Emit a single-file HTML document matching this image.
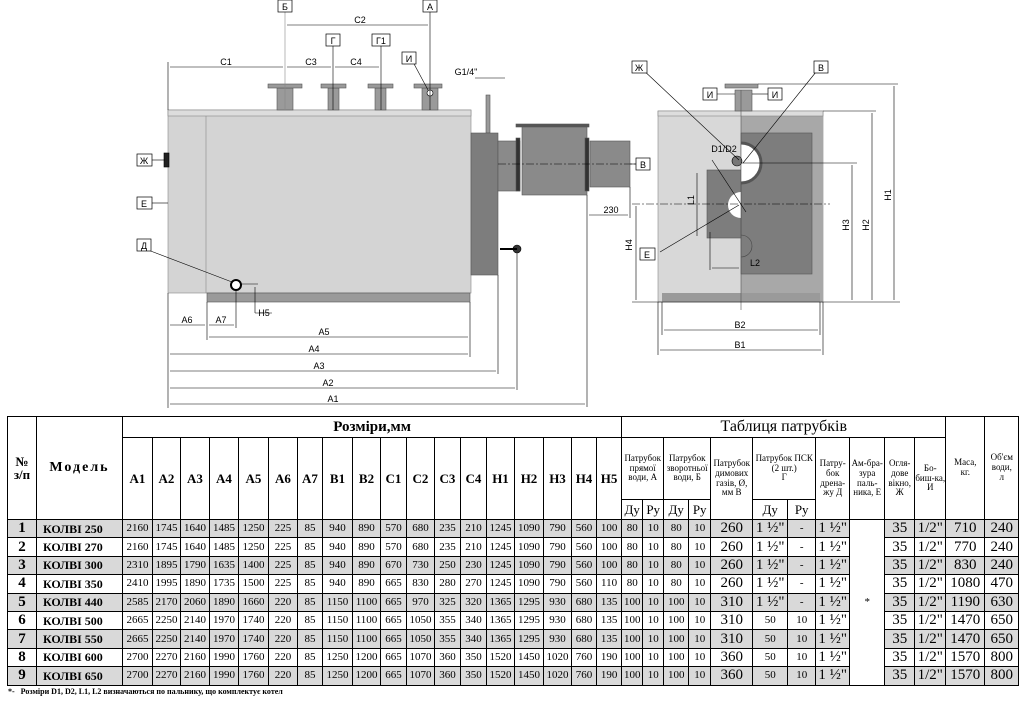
<!DOCTYPE html>
<html><head><meta charset="utf-8">
<style>
body{margin:0;width:1024px;height:704px;background:#fff;overflow:hidden;position:relative;font-family:"Liberation Serif",serif}
svg{position:absolute;left:0;top:0}
table{position:absolute;left:7px;top:416px;border-collapse:collapse;table-layout:fixed;width:1011px}
td{border:1px solid #000;padding:0;text-align:center;vertical-align:middle;font-size:11px;line-height:1;overflow:hidden;white-space:nowrap}
.h td{font-weight:bold}
.big{font-size:15px}
.s{font-size:9px;white-space:normal;line-height:1.1;font-weight:bold}
tr.d td{height:17.4px}
tr.g td{background:#d9d9d9}
td.w{background:#fff!important}
.num{font-size:15px}
.mod{font-weight:bold;font-size:12px;text-align:left;padding-left:6px}
.foot{position:absolute;left:8px;top:687px;font-size:8px;font-weight:bold}
</style></head><body>
<svg width="1024" height="416" viewBox="0 0 1024 416" font-family="Liberation Sans, sans-serif" font-size="9">
<g stroke="#000" stroke-width="0.6" fill="none">
<rect x="168" y="110" width="303" height="183" fill="#d4d4d4" stroke="#888"/>
<rect x="168" y="110" width="303" height="6" fill="#ddd" stroke="#888"/>
<line x1="206" y1="116" x2="206" y2="293" stroke="#888"/>
<rect x="207" y="293" width="263" height="9" fill="#9a9a9a" stroke="#555"/>
<rect x="164" y="153" width="5" height="14" fill="#222"/>
<g fill="#9a9a9a" stroke="#555">
<rect x="277" y="88" width="16" height="22"/><rect x="268" y="84" width="34" height="4"/>
<rect x="328" y="88" width="11" height="22"/><rect x="321" y="84" width="25" height="4"/>
<rect x="375" y="88" width="11" height="22"/><rect x="368" y="84" width="25" height="4"/>
<rect x="422" y="88" width="16" height="22"/><rect x="414" y="84" width="28" height="4"/>
<rect x="486" y="95" width="4" height="38"/>
<rect x="471" y="133" width="27" height="142" fill="#7d7d7d"/>
<rect x="498" y="141" width="22" height="50" fill="#8a8a8a"/>
<rect x="522" y="126" width="65" height="69" fill="#8a8a8a"/>
<rect x="590" y="141" width="40" height="46" fill="#8a8a8a"/>
<rect x="516" y="138" width="4" height="53" fill="#333"/>
<rect x="585" y="138" width="4" height="53" fill="#333"/>
<rect x="516" y="124" width="73" height="3" fill="#555"/>
</g>
<circle cx="236" cy="285" r="5" fill="#fff" stroke="#000" stroke-width="2"/>
<circle cx="430" cy="93" r="3" fill="#fff" stroke="#000"/>
<circle cx="517" cy="249" r="4" fill="#333"/>
<line x1="500" y1="249" x2="517" y2="249" stroke-width="2"/>
<line x1="498" y1="164" x2="640" y2="164" stroke-dasharray="8 2 2 2"/>
<line x1="285" y1="8" x2="285" y2="110" stroke="#888"/>
<line x1="430" y1="8" x2="430" y2="110"/>
<line x1="333" y1="44" x2="333" y2="110"/>
<line x1="381" y1="44" x2="381" y2="110"/>
<line x1="168" y1="62" x2="168" y2="110"/>
<line x1="170" y1="67" x2="283" y2="67"/><line x1="287" y1="67" x2="331" y2="67"/><line x1="335" y1="67" x2="379" y2="67"/>
<line x1="287" y1="25" x2="428" y2="25"/>
<line x1="475" y1="78" x2="505" y2="78"/>
<line x1="168" y1="293" x2="168" y2="408"/>
<line x1="207" y1="302" x2="207" y2="340"/>
<line x1="236" y1="290" x2="236" y2="328"/>
<line x1="470" y1="302" x2="470" y2="357"/>
<line x1="498" y1="275" x2="498" y2="374"/>
<line x1="517" y1="253" x2="517" y2="390"/>
<line x1="587" y1="195" x2="587" y2="407"/>
<line x1="630" y1="187" x2="630" y2="218"/>
<line x1="170" y1="325" x2="205" y2="325"/><line x1="209" y1="325" x2="234" y2="325"/>
<line x1="209" y1="337" x2="468" y2="337"/>
<line x1="170" y1="354" x2="468" y2="354"/>
<line x1="170" y1="371" x2="496" y2="371"/>
<line x1="170" y1="388" x2="515" y2="388"/>
<line x1="170" y1="404" x2="585" y2="404"/>
<line x1="589" y1="215" x2="628" y2="215"/>
<line x1="255" y1="287" x2="255" y2="313"/><line x1="255" y1="313" x2="272" y2="313"/>
<line x1="240" y1="284" x2="258" y2="284"/>
<line x1="152" y1="160" x2="165" y2="160"/>
<line x1="152" y1="203" x2="168" y2="203"/>
<line x1="148" y1="250" x2="232" y2="282"/>
<line x1="413" y1="62" x2="428" y2="90"/>
<line x1="630" y1="164" x2="636" y2="164"/>
<rect x="658" y="111" width="165" height="191" fill="#d8d8d8" stroke="#888"/>
<rect x="741" y="116" width="82" height="186" fill="#a8a8a8" stroke="none"/>
<rect x="658" y="111" width="165" height="5" fill="#ddd" stroke="#888"/>
<rect x="741" y="133" width="71" height="141" fill="#7d7d7d" stroke="#555"/>
<rect x="707" y="170" width="34" height="68" fill="#7d7d7d" stroke="#555"/>
<rect x="662" y="293" width="158" height="9" fill="#9a9a9a" stroke="none"/>
<rect x="735" y="90" width="17" height="21" fill="#9a9a9a" stroke="#555"/>
<rect x="725" y="84" width="33" height="4" fill="#9a9a9a" stroke="#555"/>
<path d="M741 143 A20 20 0 0 1 741 183" fill="#fff" stroke="#555" stroke-width="3"/>
<path d="M741 192 A13 13 0 0 0 741 218 Z" fill="#fff" stroke="none"/>
<circle cx="737" cy="161" r="5" fill="#777"/>
<path d="M741 235 A11 11 0 0 1 741 257" fill="none" stroke="#444"/>
<line x1="741" y1="90" x2="741" y2="310" stroke="#555"/>
<line x1="632" y1="204" x2="830" y2="204" stroke-dasharray="8 2 2 2"/>
<line x1="741" y1="163" x2="857" y2="163"/>
<line x1="823" y1="111" x2="876" y2="111"/>
<line x1="758" y1="84" x2="898" y2="84"/>
<line x1="632" y1="302" x2="900" y2="302"/>
<line x1="894" y1="86" x2="894" y2="300"/>
<line x1="872" y1="113" x2="872" y2="300"/>
<line x1="852" y1="165" x2="852" y2="300"/>
<line x1="636" y1="206" x2="636" y2="300"/>
<line x1="697" y1="173" x2="697" y2="236"/>
<line x1="710" y1="232" x2="710" y2="270"/><line x1="712" y1="268" x2="739" y2="268"/>
<line x1="658" y1="302" x2="658" y2="355"/><line x1="823" y1="302" x2="823" y2="355"/>
<line x1="662" y1="302" x2="662" y2="335"/><line x1="820" y1="302" x2="820" y2="335"/>
<line x1="664" y1="330" x2="818" y2="330"/>
<line x1="660" y1="350" x2="821" y2="350"/>
<line x1="640" y1="67" x2="739" y2="160"/>
<line x1="820" y1="67" x2="743" y2="163"/>
<line x1="660" y1="252" x2="739" y2="205"/>
<line x1="712" y1="160" x2="746" y2="212"/>
<line x1="717" y1="94" x2="735" y2="94"/><line x1="752" y1="94" x2="768" y2="94"/>
</g>
<g fill="#fff" stroke="#000" stroke-width="0.7">
<rect x="278" y="0" width="14" height="12"/><rect x="423" y="0" width="14" height="12"/>
<rect x="326" y="34" width="14" height="12"/><rect x="372" y="34" width="18" height="12"/>
<rect x="402" y="52" width="14" height="12"/>
<rect x="137" y="154" width="15" height="12"/><rect x="137" y="197" width="15" height="12"/>
<rect x="137" y="239" width="14" height="12"/>
<rect x="636" y="158" width="14" height="12"/>
<rect x="632" y="61" width="15" height="12"/><rect x="814" y="61" width="14" height="12"/>
<rect x="703" y="88" width="14" height="12"/><rect x="768" y="88" width="14" height="12"/>
<rect x="640" y="248" width="15" height="12"/>
</g>
<g fill="#000" text-anchor="middle">
<text x="285" y="10">Б</text><text x="430" y="10">А</text>
<text x="333" y="44">Г</text><text x="381" y="44">Г1</text><text x="409" y="62">И</text>
<text x="144" y="164">Ж</text><text x="144" y="207">Е</text><text x="144" y="249">Д</text>
<text x="643" y="168">В</text><text x="639" y="71">Ж</text><text x="821" y="71">В</text>
<text x="710" y="98">И</text><text x="775" y="98">И</text><text x="647" y="258">Е</text>
<text x="226" y="65">С1</text><text x="311" y="65">С3</text><text x="356" y="65">С4</text>
<text x="360" y="23">С2</text><text x="466" y="75">G1/4"</text>
<text x="187" y="323">А6</text><text x="221" y="323">А7</text><text x="264" y="316">Н5</text>
<text x="324" y="335">А5</text><text x="314" y="352">А4</text><text x="319" y="369">А3</text>
<text x="328" y="386">А2</text><text x="333" y="402">А1</text><text x="611" y="213">230</text>
<text x="724" y="152">D1/D2</text><text x="755" y="266">L2</text>
<text x="740" y="328">В2</text><text x="740" y="348">В1</text>
</g>
<g fill="#000" text-anchor="middle">
<text transform="translate(632,245) rotate(-90)">Н4</text>
<text transform="translate(694,200) rotate(-90)">L1</text>
<text transform="translate(849,225) rotate(-90)">Н3</text>
<text transform="translate(869,225) rotate(-90)">Н2</text>
<text transform="translate(891,195) rotate(-90)">Н1</text>
</g>
</svg>

<table>
<colgroup>
<col style="width:29px"><col style="width:86px"><col style="width:30px"><col style="width:28px"><col style="width:29px"><col style="width:29px"><col style="width:30px"><col style="width:29px"><col style="width:25px"><col style="width:30px"><col style="width:28px"><col style="width:26px"><col style="width:28px"><col style="width:26px"><col style="width:26px"><col style="width:28px"><col style="width:29px"><col style="width:28px"><col style="width:25px"><col style="width:25px"><col style="width:21px"><col style="width:21px"><col style="width:25px"><col style="width:22px"><col style="width:42px"><col style="width:35px"><col style="width:28px"><col style="width:34px"><col style="width:35px"><col style="width:30px"><col style="width:31px"><col style="width:39px"><col style="width:34px">
</colgroup>
<tr class="h" style="height:21px"><td rowspan="3" class="big" style="font-size:13px">№<br>з/п</td><td rowspan="3" style="font-size:14px;letter-spacing:2px">Модель</td><td colspan="18" class="big">Розміри,мм</td><td colspan="11" class="big" style="font-weight:normal;font-size:16px">Таблиця патрубків</td><td rowspan="3" class="s" style="font-weight:normal">Маса,<br>кг.</td><td rowspan="3" class="s" style="font-weight:normal">Об'єм<br>води,<br>л</td></tr>
<tr class="h" style="height:62px"><td rowspan="2" style="font-size:13px">A1</td><td rowspan="2" style="font-size:13px">A2</td><td rowspan="2" style="font-size:13px">A3</td><td rowspan="2" style="font-size:13px">A4</td><td rowspan="2" style="font-size:13px">A5</td><td rowspan="2" style="font-size:13px">A6</td><td rowspan="2" style="font-size:13px">A7</td><td rowspan="2" style="font-size:13px">B1</td><td rowspan="2" style="font-size:13px">B2</td><td rowspan="2" style="font-size:13px">C1</td><td rowspan="2" style="font-size:13px">C2</td><td rowspan="2" style="font-size:13px">C3</td><td rowspan="2" style="font-size:13px">C4</td><td rowspan="2" style="font-size:13px">H1</td><td rowspan="2" style="font-size:13px">H2</td><td rowspan="2" style="font-size:13px">H3</td><td rowspan="2" style="font-size:13px">H4</td><td rowspan="2" style="font-size:13px">H5</td>
<td colspan="2" class="s" style="font-weight:normal">Патрубок прямої води, А</td><td colspan="2" class="s" style="font-weight:normal">Патрубок зворотньої води, Б</td><td rowspan="2" class="s" style="font-weight:normal">Патрубок димових газів, Ø, мм В</td><td colspan="2" class="s" style="font-weight:normal">Патрубок ПСК<br>(2 шт.)<br>Г</td><td rowspan="2" class="s" style="font-weight:normal">Патру-бок дрена-жу Д</td><td rowspan="2" class="s" style="font-weight:normal">Ам-бра-зура паль-ника, Е</td><td rowspan="2" class="s" style="font-weight:normal">Огля-дове вікно, Ж</td><td rowspan="2" class="s" style="font-weight:normal">Бо-биш-ка, И</td></tr>
<tr style="height:20px"><td style="font-size:13px">Ду</td><td style="font-size:13px">Ру</td><td style="font-size:13px">Ду</td><td style="font-size:13px">Ру</td><td style="font-size:13px">Ду</td><td style="font-size:13px">Ру</td></tr>
<tr class="d g"><td class="num"><b>1</b></td><td class="mod">КОЛВІ 250</td><td>2160</td><td>1745</td><td>1640</td><td>1485</td><td>1250</td><td>225</td><td>85</td><td>940</td><td>890</td><td>570</td><td>680</td><td>235</td><td>210</td><td>1245</td><td>1090</td><td>790</td><td>560</td><td>100</td><td>80</td><td>10</td><td>80</td><td>10</td><td class="num">260</td><td class="num">1 ½"</td><td>-</td><td class="num">1 ½"</td><td rowspan="9" class="w">*</td><td class="num">35</td><td class="num">1/2"</td><td class="num">710</td><td class="num">240</td></tr>
<tr class="d"><td class="num"><b>2</b></td><td class="mod">КОЛВІ 270</td><td>2160</td><td>1745</td><td>1640</td><td>1485</td><td>1250</td><td>225</td><td>85</td><td>940</td><td>890</td><td>570</td><td>680</td><td>235</td><td>210</td><td>1245</td><td>1090</td><td>790</td><td>560</td><td>100</td><td>80</td><td>10</td><td>80</td><td>10</td><td class="num">260</td><td class="num">1 ½"</td><td>-</td><td class="num">1 ½"</td><td class="num">35</td><td class="num">1/2"</td><td class="num">770</td><td class="num">240</td></tr>
<tr class="d g"><td class="num"><b>3</b></td><td class="mod">КОЛВІ 300</td><td>2310</td><td>1895</td><td>1790</td><td>1635</td><td>1400</td><td>225</td><td>85</td><td>940</td><td>890</td><td>670</td><td>730</td><td>250</td><td>230</td><td>1245</td><td>1090</td><td>790</td><td>560</td><td>100</td><td>80</td><td>10</td><td>80</td><td>10</td><td class="num">260</td><td class="num">1 ½"</td><td>-</td><td class="num">1 ½"</td><td class="num">35</td><td class="num">1/2"</td><td class="num">830</td><td class="num">240</td></tr>
<tr class="d"><td class="num"><b>4</b></td><td class="mod">КОЛВІ 350</td><td>2410</td><td>1995</td><td>1890</td><td>1735</td><td>1500</td><td>225</td><td>85</td><td>940</td><td>890</td><td>665</td><td>830</td><td>280</td><td>270</td><td>1245</td><td>1090</td><td>790</td><td>560</td><td>110</td><td>80</td><td>10</td><td>80</td><td>10</td><td class="num">260</td><td class="num">1 ½"</td><td>-</td><td class="num">1 ½"</td><td class="num">35</td><td class="num">1/2"</td><td class="num">1080</td><td class="num">470</td></tr>
<tr class="d g"><td class="num"><b>5</b></td><td class="mod">КОЛВІ 440</td><td>2585</td><td>2170</td><td>2060</td><td>1890</td><td>1660</td><td>220</td><td>85</td><td>1150</td><td>1100</td><td>665</td><td>970</td><td>325</td><td>320</td><td>1365</td><td>1295</td><td>930</td><td>680</td><td>135</td><td>100</td><td>10</td><td>100</td><td>10</td><td class="num">310</td><td class="num">1 ½"</td><td>-</td><td class="num">1 ½"</td><td class="num">35</td><td class="num">1/2"</td><td class="num">1190</td><td class="num">630</td></tr>
<tr class="d"><td class="num"><b>6</b></td><td class="mod">КОЛВІ 500</td><td>2665</td><td>2250</td><td>2140</td><td>1970</td><td>1740</td><td>220</td><td>85</td><td>1150</td><td>1100</td><td>665</td><td>1050</td><td>355</td><td>340</td><td>1365</td><td>1295</td><td>930</td><td>680</td><td>135</td><td>100</td><td>10</td><td>100</td><td>10</td><td class="num">310</td><td>50</td><td>10</td><td class="num">1 ½"</td><td class="num">35</td><td class="num">1/2"</td><td class="num">1470</td><td class="num">650</td></tr>
<tr class="d g"><td class="num"><b>7</b></td><td class="mod">КОЛВІ 550</td><td>2665</td><td>2250</td><td>2140</td><td>1970</td><td>1740</td><td>220</td><td>85</td><td>1150</td><td>1100</td><td>665</td><td>1050</td><td>355</td><td>340</td><td>1365</td><td>1295</td><td>930</td><td>680</td><td>135</td><td>100</td><td>10</td><td>100</td><td>10</td><td class="num">310</td><td>50</td><td>10</td><td class="num">1 ½"</td><td class="num">35</td><td class="num">1/2"</td><td class="num">1470</td><td class="num">650</td></tr>
<tr class="d"><td class="num"><b>8</b></td><td class="mod">КОЛВІ 600</td><td>2700</td><td>2270</td><td>2160</td><td>1990</td><td>1760</td><td>220</td><td>85</td><td>1250</td><td>1200</td><td>665</td><td>1070</td><td>360</td><td>350</td><td>1520</td><td>1450</td><td>1020</td><td>760</td><td>190</td><td>100</td><td>10</td><td>100</td><td>10</td><td class="num">360</td><td>50</td><td>10</td><td class="num">1 ½"</td><td class="num">35</td><td class="num">1/2"</td><td class="num">1570</td><td class="num">800</td></tr>
<tr class="d g"><td class="num"><b>9</b></td><td class="mod">КОЛВІ 650</td><td>2700</td><td>2270</td><td>2160</td><td>1990</td><td>1760</td><td>220</td><td>85</td><td>1250</td><td>1200</td><td>665</td><td>1070</td><td>360</td><td>350</td><td>1520</td><td>1450</td><td>1020</td><td>760</td><td>190</td><td>100</td><td>10</td><td>100</td><td>10</td><td class="num">360</td><td>50</td><td>10</td><td class="num">1 ½"</td><td class="num">35</td><td class="num">1/2"</td><td class="num">1570</td><td class="num">800</td></tr>
</table>
<div class="foot">*-&nbsp;&nbsp; Розміри D1, D2, L1, L2 визначаються по пальнику, що комплектує котел</div>
</body></html>
